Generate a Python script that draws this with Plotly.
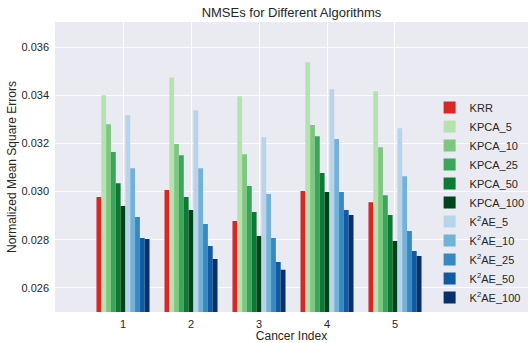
import plotly.graph_objects as go

categories = [1, 2, 3, 4, 5]
series_names = ["KRR", "KPCA_5", "KPCA_10", "KPCA_25", "KPCA_50", "KPCA_100",
                "K<sup>2</sup>AE_5", "K<sup>2</sup>AE_10", "K<sup>2</sup>AE_25",
                "K<sup>2</sup>AE_50", "K<sup>2</sup>AE_100"]

krr      = [0.02977, 0.03006, 0.02878, 0.03002, 0.02956]
kpca_5   = [0.03400, 0.03474, 0.03396, 0.03537, 0.03416]
kpca_10  = [0.03280, 0.03197, 0.03155, 0.03276, 0.03184]
kpca_25  = [0.03164, 0.03151, 0.03023, 0.03230, 0.02985]
kpca_50  = [0.03035, 0.02977, 0.02915, 0.03077, 0.02903]
kpca_100 = [0.02940, 0.02923, 0.02816, 0.02998, 0.02795]
k2ae_5   = [0.03317, 0.03338, 0.03226, 0.03425, 0.03263]
k2ae_10  = [0.03097, 0.03097, 0.02990, 0.03218, 0.03064]
k2ae_25  = [0.02894, 0.02865, 0.02807, 0.02998, 0.02836]
k2ae_50  = [0.02807, 0.02774, 0.02708, 0.02923, 0.02753]
k2ae_100 = [0.02803, 0.02720, 0.02675, 0.02903, 0.02733]

series_values = [krr, kpca_5, kpca_10, kpca_25, kpca_50, kpca_100,
                 k2ae_5, k2ae_10, k2ae_25, k2ae_50, k2ae_100]
colors = ["#d92626", "#b5e3ae", "#7dc87e", "#3ca55c", "#0e7835", "#00441b",
          "#b7d4ea", "#72b1d8", "#3888c1", "#105ba4", "#08306b"]

y_ticks = [0.026, 0.028, 0.030, 0.032, 0.034, 0.036]

fig = go.Figure()
for name, vals, c in zip(series_names, series_values, colors):
    fig.add_trace(go.Bar(x=categories, y=vals, name=name,
                         marker=dict(color=c, line=dict(width=0))))

font_color = "#262626"
fig.update_layout(
    width=528, height=343,
    margin=dict(l=55, r=0, t=22, b=31, autoexpand=False),
    paper_bgcolor="white", plot_bgcolor="#eaeaf2",
    font=dict(family="Liberation Sans, Arial, sans-serif", size=11, color=font_color),
    barmode="group", bargap=0.22, bargroupgap=0,
    title=dict(text="NMSEs for Different Algorithms", x=0.552, xanchor="center",
               y=0.963, yanchor="middle", font=dict(size=13, color=font_color)),
    showlegend=True,
    legend=dict(x=0.792, xanchor="left", y=0.0, yanchor="bottom",
                bgcolor="rgba(0,0,0,0)", font=dict(size=11, color=font_color),
                tracegroupgap=0, itemwidth=30),
    xaxis=dict(range=[0, 6.956], tickvals=categories, ticktext=[str(c) for c in categories],
               showgrid=True, gridcolor="white", gridwidth=1, zeroline=False,
               ticks="", ticklabelstandoff=4, automargin=False,
               title=dict(text="Cancer Index", font=dict(size=12, color=font_color), standoff=3)),
    yaxis=dict(range=[0.025, 0.03704], tickvals=y_ticks,
               ticktext=[f"{v:.3f}" for v in y_ticks],
               showgrid=True, gridcolor="white", gridwidth=1, zeroline=False,
               ticks="", ticklabelstandoff=5, automargin=False,
               title=dict(text="Normalized Mean Square Errors", font=dict(size=12, color=font_color), standoff=2)),
)

fig.write_html("out.html", config={"displayModeBar": False},
               post_script="document.body.style.margin='0';document.body.style.overflow='hidden';")
